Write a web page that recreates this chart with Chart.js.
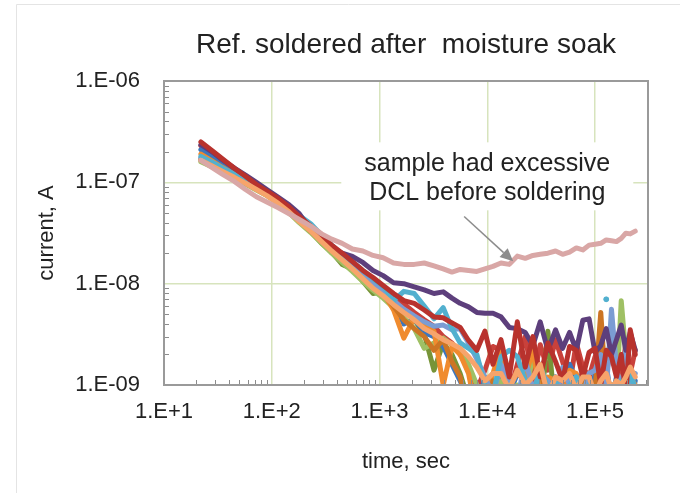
<!DOCTYPE html>
<html>
<head>
<meta charset="utf-8">
<script src="https://cdn.jsdelivr.net/npm/chart.js@4.4.1/dist/chart.umd.min.js"></script>
<style>
  body { margin: 0; background: #fff; }
  canvas { display: block; }
</style>
</head>
<body>
<canvas id="chartLeak" width="680" height="493"></canvas>
<script>
// time axis (sec), shared by all samples
const timeSec = [22, 28, 35, 45, 57, 72, 90, 115, 145, 180,
  230, 290, 360, 450, 560, 700, 870, 1080, 1350, 1680,
  2100, 2600, 3200, 3900, 4700, 5600, 6700, 8000, 9500, 11300,
  13400, 16000, 19000, 22500, 26500, 31000, 36500, 43000, 50000, 58000,
  67000, 77000, 88000, 100000, 113000, 127000, 142000, 158000, 175000, 193000,
  212000, 236000];

// current (A) per sample; values under 1e-9 fall off the bottom
const refDcl = [1.65e-7, 1.4e-7, 1.2e-7, 1.02e-7, 8.5e-8, 7.2e-8, 6.4e-8, 5.6e-8, 4.9e-8, 4.3e-8,
  3.7e-8, 3.1e-8, 2.75e-8, 2.5e-8, 2.2e-8, 2.1e-8, 1.9e-8, 1.8e-8, 1.6e-8, 1.55e-8,
  1.55e-8, 1.6e-8, 1.5e-8, 1.4e-8, 1.3e-8, 1.38e-8, 1.35e-8, 1.32e-8, 1.4e-8, 1.48e-8,
  1.6e-8, 1.55e-8, 1.87e-8, 1.78e-8, 1.9e-8, 1.95e-8, 2.0e-8, 2.1e-8, 1.95e-8, 2.05e-8,
  2.25e-8, 2.15e-8, 2.4e-8, 2.45e-8, 2.5e-8, 2.7e-8, 2.65e-8, 2.6e-8, 2.8e-8, 3.15e-8,
  3.1e-8, 3.3e-8];
const ref01 = [2.5e-7, 2.05e-7, 1.7e-7, 1.38e-7, 1.15e-7, 9.5e-8, 8.2e-8, 6.9e-8, 5.7e-8, 4.6e-8,
  3.7e-8, 2.95e-8, 2.4e-8, 2.0e-8, 1.65e-8, 1.35e-8, 1.15e-8, 9.6e-9, 8.0e-9, 6.8e-9,
  6.4e-9, 5.5e-9, 4.7e-9, 4.6e-9, 4.1e-9, 3.7e-9, 2.75e-9, 2.2e-9, 3.4e-9, 1.6e-9,
  2.8e-9, 1.2e-9, 4.2e-9, 1.5e-9, 3.0e-9, 1.2e-9, 2.6e-9, 1.7e-9, 1.1e-9, 2.4e-9,
  2.2e-9, 1.2e-9, 2.1e-9, 2.3e-9, 1.0e-9, 2.2e-9, 1.9e-9, 1.2e-9, 2.0e-9, 8e-10,
  3.5e-9, 2.0e-9];
const ref02 = [2.35e-7, 2.0e-7, 1.66e-7, 1.38e-7, 1.18e-7, 1.0e-7, 8.5e-8, 7.1e-8, 6.0e-8, 4.9e-8,
  3.4e-8, 2.7e-8, 2.25e-8, 2.0e-8, 1.86e-8, 1.62e-8, 1.35e-8, 1.2e-8, 1.02e-8, 1.0e-8,
  9.3e-9, 8.7e-9, 8.0e-9, 8.3e-9, 7.2e-9, 6.4e-9, 5.9e-9, 5.2e-9, 5.1e-9, 5.1e-9,
  4.7e-9, 3.7e-9, 3.6e-9, 3.3e-9, 2.45e-9, 4.2e-9, 2.2e-9, 3.5e-9, 2.3e-9, 3.3e-9,
  2.2e-9, 4.35e-9, 4.5e-9, 2.1e-9, 2.45e-9, 3.6e-9, 2.0e-9, 2.8e-9, 3.9e-9, 2.2e-9,
  3.3e-9, 2.2e-9];
const ref03 = [1.8e-7, 1.58e-7, 1.38e-7, 1.2e-7, 1.04e-7, 9.0e-8, 7.9e-8, 6.8e-8, 5.6e-8, 4.7e-8,
  3.9e-8, 3.0e-8, 2.4e-8, 1.95e-8, 1.65e-8, 1.35e-8, 1.12e-8, 9.4e-9, 6.8e-9, 8.4e-9,
  8.0e-9, 6.0e-9, 4.5e-9, 5.8e-9, 3.6e-9, 2.6e-9, 2.3e-9, 2.0e-9, 1.0e-9, 8e-10,
  1.9e-9, 2.2e-9, 1.9e-9, 1.1e-9, 7e-10, 1.6e-9, 9e-10, 1.1e-9, 7e-10, 1.0e-9,
  1.2e-9, 8e-10, 1.0e-9, 7e-10, null, 7.0e-9, null, 9e-10, 1.1e-9, 8e-10,
  1.4e-9, 9e-10];
const ref04 = [1.75e-7, 1.52e-7, 1.32e-7, 1.15e-7, 1.0e-7, 8.7e-8, 7.6e-8, 6.4e-8, 5.3e-8, 4.3e-8,
  3.4e-8, 2.75e-8, 2.25e-8, 1.85e-8, 1.52e-8, 1.22e-8, 1.02e-8, 8.3e-9, 6.8e-9, 5.6e-9,
  4.8e-9, 4.2e-9, 3.8e-9, 3.9e-9, 3.5e-9, 3.6e-9, 2.6e-9, 1.8e-9, 1.2e-9, 8e-10,
  1.6e-9, 1.1e-9, 7e-10, 1.8e-9, 9e-10, 1.3e-9, 1.1e-9, 6e-10, 1.5e-9, 1.0e-9,
  1.2e-9, 8e-10, 1.3e-9, 1.4e-9, 2.0e-9, 8e-10, 5.6e-9, 1.5e-9, 8e-10, 2.2e-9,
  1.0e-9, 1.3e-9];
const ref05 = [1.7e-7, 1.48e-7, 1.3e-7, 1.14e-7, 9.9e-8, 8.6e-8, 7.5e-8, 6.3e-8, 5.2e-8, 4.2e-8,
  3.3e-8, 2.65e-8, 2.15e-8, 1.75e-8, 1.45e-8, 1.15e-8, 9.6e-9, 7.8e-9, 6.0e-9, 4.4e-9,
  3.6e-9, 3.0e-9, 2.2e-9, 2.8e-9, 1.7e-9, 1.2e-9, 5e-10, 5e-10, 5e-10, 1.1e-9,
  8e-10, 1.2e-9, 7e-10, 1.0e-9, 8e-10, 1.5e-9, 6e-10, 1.0e-9, 8e-10, 1.0e-9,
  7e-10, 1.1e-9, 8e-10, 9e-10, 5.2e-9, 8e-10, 1.0e-9, 7e-10, 1.1e-9, 8e-10,
  1.0e-9, 8e-10];
const ref06 = [1.9e-7, 1.62e-7, 1.4e-7, 1.2e-7, 1.03e-7, 8.8e-8, 7.7e-8, 6.5e-8, 5.3e-8, 4.3e-8,
  3.4e-8, 2.7e-8, 2.2e-8, 1.8e-8, 1.48e-8, 1.2e-8, 1.0e-8, 8.2e-9, 5.5e-9, 2.9e-9,
  4.6e-9, 4.0e-9, 3.4e-9, 1.0e-9, 2.4e-9, 2.0e-9, 1.3e-9, 5e-10, 8e-10, 1.3e-9,
  2.4e-9, 1.0e-9, 1.3e-9, 1.2e-9, 2.2e-9, 8e-10, 1.2e-9, 1.1e-9, 7e-10, 1.4e-9,
  1.3e-9, 8e-10, 1.2e-9, 6e-10, 1.0e-9, 1.2e-9, 7e-10, 1.1e-9, 1.2e-9, 8e-10,
  1.2e-9, 1.0e-9];
const ref07 = [1.6e-7, 1.42e-7, 1.25e-7, 1.1e-7, 9.6e-8, 8.4e-8, 7.4e-8, 6.2e-8, 5.0e-8, 4.0e-8,
  3.2e-8, 2.5e-8, 2.0e-8, 1.62e-8, 1.32e-8, 1.05e-8, 8.6e-9, 7.2e-9, 5.8e-9, 4.6e-9,
  3.6e-9, 2.3e-9, 2.6e-9, 2.9e-9, 2.5e-9, 2.2e-9, 1.6e-9, 1.0e-9, 5e-10, 1.0e-9,
  1.1e-9, 7e-10, 1.0e-9, 8e-10, 1.9e-9, 1.3e-9, 7e-10, 1.0e-9, 6e-10, 9e-10,
  7e-10, 1.2e-9, 8e-10, 1.0e-9, 7e-10, 9e-10, 1.0e-9, 8e-10, 6.8e-9, 2.0e-9,
  1.1e-9, 9e-10];
const ref08 = [2.1e-7, 1.75e-7, 1.48e-7, 1.24e-7, 1.05e-7, 8.8e-8, 7.7e-8, 6.5e-8, 5.3e-8, 4.3e-8,
  3.4e-8, 2.7e-8, 2.2e-8, 1.8e-8, 1.5e-8, 1.2e-8, 1.0e-8, 8.0e-9, 6.4e-9, 4.0e-9,
  4.5e-9, 3.3e-9, 3.0e-9, 2.4e-9, 1.6e-9, 1.1e-9, 7e-10, 5e-10, 1.2e-9, 7e-10,
  1.4e-9, 8e-10, 1.3e-9, 1.1e-9, 6e-10, 1.5e-9, 9e-10, 1.2e-9, 6e-10, 1.6e-9,
  1.1e-9, 1.3e-9, 6e-10, 1.3e-9, 1.0e-9, 1.6e-9, 7e-10, 1.2e-9, 9e-10, 1.3e-9,
  7e-10, 1.1e-9];
const ref09 = [1.65e-7, 1.45e-7, 1.27e-7, 1.12e-7, 9.8e-8, 8.6e-8, 7.5e-8, 6.3e-8, 5.1e-8, 4.1e-8,
  3.3e-8, 2.5e-8, 2.05e-8, 1.55e-8, 1.4e-8, 1.05e-8, 8.0e-9, 8.3e-9, 6.6e-9, 5.5e-9,
  4.4e-9, 3.2e-9, 1.4e-9, 2.6e-9, 2.0e-9, 1.3e-9, 7e-10, 5e-10, 5e-10, 5e-10,
  1.0e-9, 5e-10, 5e-10, 5e-10, 9e-10, 5e-10, 3.4e-9, 5e-10, 5e-10, 5e-10,
  5e-10, 5e-10, 9e-10, 5e-10, 5e-10, 5e-10, 5e-10, 5e-10, 5e-10, 5e-10,
  5e-10, 5e-10];
const ref10 = [2.3e-7, 1.9e-7, 1.58e-7, 1.3e-7, 1.08e-7, 9.1e-8, 7.9e-8, 6.7e-8, 5.5e-8, 4.5e-8,
  3.6e-8, 2.9e-8, 2.35e-8, 1.95e-8, 1.6e-8, 1.3e-8, 1.1e-8, 9.2e-9, 7.5e-9, 6.3e-9,
  5.2e-9, 4.4e-9, 3.8e-9, 3.0e-9, 2.6e-9, 2.0e-9, 1.5e-9, 9e-10, 1.4e-9, 2.4e-9,
  2.2e-9, 8e-10, 1.6e-9, 3.0e-9, 1.1e-9, 2.5e-9, 1.4e-9, 2.8e-9, 1.7e-9, 1.0e-9,
  2.6e-9, 1.5e-9, 1.2e-9, 1.9e-9, 2.5e-9, 1.3e-9, 2.4e-9, 1.8e-9, 1.1e-9, 2.6e-9,
  1.3e-9, 2.2e-9];
const ref11 = [1.65e-7, 1.45e-7, 1.28e-7, 1.12e-7, 9.8e-8, 8.5e-8, 7.4e-8, 6.2e-8, 5.1e-8, 4.1e-8,
  3.3e-8, 2.6e-8, 2.1e-8, 1.72e-8, 1.4e-8, 1.12e-8, 9.0e-9, 7.6e-9, 6.2e-9, 5.2e-9,
  4.4e-9, 3.6e-9, 3.2e-9, 2.8e-9, 2.55e-9, 2.3e-9, 1.9e-9, 1.5e-9, 1.1e-9, 1.3e-9,
  1.3e-9, 9e-10, 1.4e-9, 1.0e-9, 1.2e-9, 1.6e-9, 8e-10, 1.2e-9, 1.1e-9, 1.3e-9,
  9e-10, 1.2e-9, 1.2e-9, 8e-10, 1.1e-9, 1.3e-9, 9e-10, 1.1e-9, 1.0e-9, 1.2e-9,
  1.5e-9, 1.2e-9];

// axis ticks
const xTickValues = [10, 100, 1000, 10000, 100000];
const xTickLabels = ['1.E+1', '1.E+2', '1.E+3', '1.E+4', '1.E+5'];
const yTickValues = [1e-9, 1e-8, 1e-7, 1e-6];
const yTickLabels = ['1.E-09', '1.E-08', '1.E-07', '1.E-06'];

// first entry is drawn on top
const seriesList = [
  { name: 'DCL sample', values: refDcl, color: '#d9a7a6' },
  { name: 'ref 11', values: ref11, color: '#f7a46b' },
  { name: 'ref 01', values: ref01, color: '#b8322d' },
  { name: 'ref 02', values: ref02, color: '#5d3f7c' },
  { name: 'ref 03', values: ref03, color: '#52b0cf' },
  { name: 'ref 04', values: ref04, color: '#7b9cd3' },
  { name: 'ref 05', values: ref05, color: '#cc7524' },
  { name: 'ref 06', values: ref06, color: '#f08b2e' },
  { name: 'ref 07', values: ref07, color: '#9fc064' },
  { name: 'ref 08', values: ref08, color: '#3c76bd' },
  { name: 'ref 09', values: ref09, color: '#779438' },
  { name: 'ref 10', values: ref10, color: '#c9413b' }
];

const chartTitle = 'Ref. soldered after  moisture soak';
const noteLines = ['sample had excessive', 'DCL before soldering'];
const noteAnchor = { t: 1.0e4, i: 1.0e-7 };
const arrowFrom = { t: 6100, i: 4.6e-8 };
const arrowTo = { t: 17400, i: 1.66e-8 };

const FONT = '"Liberation Sans", Arial, sans-serif';
Chart.defaults.font.family = FONT;
Chart.defaults.color = '#222';

const decorPlugin = {
    id: 'decor',
    beforeDraw(chart) {
        const ctx = chart.ctx;
        const a = chart.chartArea;
        ctx.save();
        ctx.fillStyle = '#fff';
        ctx.fillRect(0, 0, chart.width, chart.height);
        ctx.strokeStyle = '#e4e4e4';
        ctx.lineWidth = 1;
        ctx.beginPath();
        ctx.moveTo(16.5, chart.height);
        ctx.lineTo(16.5, 4.5);
        ctx.lineTo(chart.width, 4.5);
        ctx.stroke();
        // title, centred over the plot area
        ctx.fillStyle = '#222';
        ctx.font = '28px ' + FONT;
        ctx.textAlign = 'center';
        ctx.textBaseline = 'middle';
        ctx.fillText(chartTitle, (a.left + a.right) / 2, 45);
        ctx.restore();
    },
    beforeDatasetsDraw(chart) {
        // white box of the note hides the grid behind it
        const ctx = chart.ctx;
        const xs = chart.scales.x, ys = chart.scales.y;
        const cx = xs.getPixelForValue(noteAnchor.t);
        const cy = ys.getPixelForValue(noteAnchor.i);
        ctx.save();
        ctx.fillStyle = '#fff';
        ctx.fillRect(cx - 146, cy - 40, 292, 68);
        ctx.fillStyle = '#222';
        ctx.font = '25px ' + FONT;
        ctx.textAlign = 'center';
        ctx.textBaseline = 'alphabetic';
        ctx.fillText(noteLines[0], cx, cy - 11);
        ctx.fillText(noteLines[1], cx, cy + 18);
        ctx.restore();
    },
    afterDatasetsDraw(chart) {
        const ctx = chart.ctx;
        const a = chart.chartArea;
        const xs = chart.scales.x, ys = chart.scales.y;
        ctx.save();
        // minor ticks, pointing into the plot
        ctx.strokeStyle = '#8c8c8c';
        ctx.lineWidth = 1;
        ctx.beginPath();
        for (let d = 10; d < xs.max; d *= 10) {
            for (let m = 2; m <= 9; m++) {
                const v = d * m;
                if (v > xs.max) break;
                const px = Math.round(xs.getPixelForValue(v)) + 0.5;
                ctx.moveTo(px, a.bottom);
                ctx.lineTo(px, a.bottom - 5);
            }
        }
        for (let d = 1e-9; d < ys.max * 0.99; d *= 10) {
            for (let m = 2; m <= 9; m++) {
                const py = Math.round(ys.getPixelForValue(d * m)) + 0.5;
                ctx.moveTo(a.left, py);
                ctx.lineTo(a.left + 5, py);
            }
        }
        ctx.stroke();
        // plot border
        ctx.strokeStyle = '#9a9a9a';
        ctx.lineWidth = 2;
        ctx.strokeRect(a.left, a.top, a.right - a.left, a.bottom - a.top);
        // arrow to the DCL sample
        const x0 = xs.getPixelForValue(arrowFrom.t), y0 = ys.getPixelForValue(arrowFrom.i);
        const x1 = xs.getPixelForValue(arrowTo.t), y1 = ys.getPixelForValue(arrowTo.i);
        const ang = Math.atan2(y1 - y0, x1 - x0);
        const len = 13, half = 6;
        const bx = x1 - len * Math.cos(ang), by = y1 - len * Math.sin(ang);
        ctx.strokeStyle = '#8c8c8c';
        ctx.fillStyle = '#8c8c8c';
        ctx.lineWidth = 1.5;
        ctx.beginPath();
        ctx.moveTo(x0, y0);
        ctx.lineTo(bx, by);
        ctx.stroke();
        ctx.beginPath();
        ctx.moveTo(x1, y1);
        ctx.lineTo(bx + half * Math.sin(ang), by - half * Math.cos(ang));
        ctx.lineTo(bx - half * Math.sin(ang), by + half * Math.cos(ang));
        ctx.closePath();
        ctx.fill();
        ctx.restore();
    }
};

function buildDatasets() {
    return seriesList.map(s => ({
        label: s.name,
        data: s.values.map((v, k) => ({ x: timeSec[k], y: v })),
        borderColor: s.color,
        backgroundColor: s.color,
        pointBackgroundColor: s.color,
        borderWidth: 5,
        borderJoinStyle: 'round',
        borderCapStyle: 'round',
        tension: 0,
        fill: false,
        spanGaps: false,
        clip: 0,
        pointBorderWidth: 0,
        // a lone reading between gaps shows as a dot
        pointRadius: c => {
            const k = c.dataIndex;
            const isolated = s.values[k] != null && s.values[k - 1] == null && s.values[k + 1] == null;
            return isolated ? 2.8 : 0;
        },
        pointHoverRadius: 0
    }));
}

document.addEventListener('DOMContentLoaded', () => {
    const ctx = document.getElementById('chartLeak').getContext('2d');
    new Chart(ctx, {
        type: 'line',
        data: { datasets: buildDatasets() },
        options: {
            responsive: false,
            animation: false,
            devicePixelRatio: 1,
            layout: { padding: { left: 0, right: 32, top: 81, bottom: 0 } },
            plugins: {
                legend: { display: false },
                tooltip: { enabled: false },
                title: { display: false }
            },
            scales: {
                x: {
                    type: 'logarithmic',
                    position: 'bottom',
                    min: 10,
                    max: 310000,
                    afterBuildTicks: s => { s.ticks = xTickValues.map(v => ({ value: v })); },
                    afterFit: s => { s.height = 108; },
                    grid: { color: '#d7e4bd', lineWidth: 1.5, drawTicks: false },
                    border: { display: false },
                    ticks: {
                        autoSkip: false,
                        maxRotation: 0,
                        padding: 14,
                        font: { size: 22 },
                        callback: v => xTickLabels[xTickValues.indexOf(v)]
                    },
                    title: {
                        display: true,
                        text: 'time, sec',
                        font: { size: 22 },
                        padding: { top: 0, bottom: 18 }
                    }
                },
                y: {
                    type: 'logarithmic',
                    min: 1e-9,
                    max: 1e-6,
                    afterBuildTicks: s => { s.ticks = yTickValues.map(v => ({ value: v })); },
                    afterFit: s => { s.width = 164; },
                    grid: { color: '#d7e4bd', lineWidth: 1.5, drawTicks: false },
                    border: { display: false },
                    ticks: {
                        autoSkip: false,
                        padding: 24,
                        font: { size: 22 },
                        callback: v => yTickLabels[yTickValues.indexOf(v)]
                    },
                    title: {
                        display: true,
                        text: 'current, A',
                        font: { size: 22 },
                        padding: { top: 34, bottom: 0 }
                    }
                }
            }
        },
        plugins: [decorPlugin]
    });
});
</script>
</body>
</html>
